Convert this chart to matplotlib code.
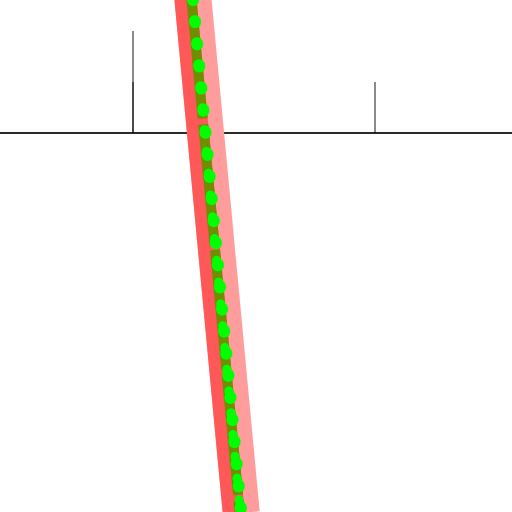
import matplotlib
matplotlib.use('Agg')
import matplotlib.pyplot as plt
import matplotlib.transforms as mtransforms

# stems on the baseline
stem_x = [1.0, 1.0, 6.0]
stem_h = [2.0, 1.0, 1.0]

# the slanted band (two end points, clipped by the axes)
band_x = [2.20, 3.29]
band_y = [3.0, -8.0]

fig = plt.figure(figsize=(5.12, 5.12), dpi=100)
ax = fig.add_axes([0, 0, 1, 1])
ax.set_xlim(-1.75, 8.83)
ax.set_ylim(-7.43, 2.61)
ax.axis('off')

ax.axhline(0, color='black', lw=1.2, zorder=3)
ax.vlines(stem_x, 0, stem_h, color='black', alpha=0.5, lw=1.3, zorder=2)

px = 72 / fig.dpi  # points per pixel
ax.plot(band_x, band_y, color='#ff9c9c', lw=37 * px, solid_capstyle='butt', zorder=4)
left = mtransforms.offset_copy(ax.transData, fig=fig, x=-7.5, y=0, units='dots')
ax.plot(band_x, band_y, color='#ff5858', lw=22 * px, solid_capstyle='butt',
        transform=left, zorder=5)
mid = mtransforms.offset_copy(ax.transData, fig=fig, x=-1.5, y=0, units='dots')
ax.plot(band_x, band_y, color='#6f8f00', lw=10 * px, ls=(0, (12, 0.6)),
        dash_capstyle='butt', transform=mid, zorder=6)
# green dots: a small dot with a larger one just below it
up = mtransforms.offset_copy(ax.transData, fig=fig, x=-1.5, y=6, units='dots')
ax.plot(band_x, band_y, color='#00ff00', lw=9 * px, ls=(0, (0.1, 2.33)),
        dash_capstyle='round', transform=up, zorder=7)
ax.plot(band_x, band_y, color='#00ff00', lw=12 * px, ls=(0, (0.1, 1.75)),
        dash_capstyle='round', zorder=7)

fig.savefig('out.png', dpi=100)
